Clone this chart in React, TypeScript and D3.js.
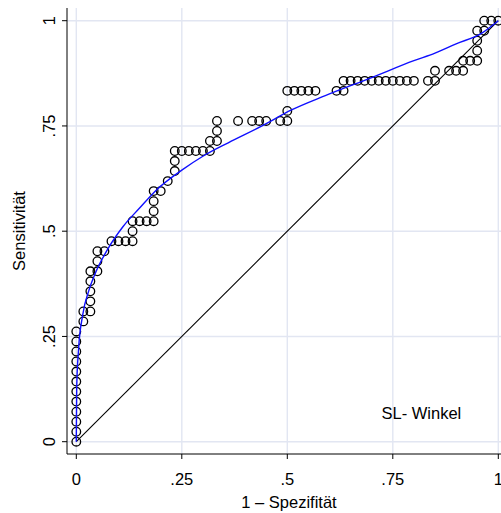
import React from "react";
import * as d3 from "d3";

// ROC counts: 60 negatives, 42 positives
const N_NEG = 60;
const N_POS = 42;

const fpCount = [
  0, 0, 0, 0, 0, 0, 0, 0, 0, 0, 0, 0,
  1, 1, 2, 2, 2, 2, 2, 3, 3, 3, 4,
  5, 6, 7, 8, 8, 8, 9, 10, 11, 11, 11, 11, 12,
  13, 14, 14, 14, 15, 16, 17, 18, 19, 19, 20, 20,
  20, 23, 25, 26, 27, 29, 30, 30,
  30, 31, 32, 33, 34, 37, 38,
  38, 39, 40, 41, 42, 43, 44, 45, 46, 47, 48, 50, 51,
  51, 53, 54, 55, 55, 56, 57, 57, 57, 57, 58, 58, 59, 60,
];
const tpCount = [
  0, 1, 2, 3, 4, 5, 6, 7, 8, 9, 10, 11,
  12, 13, 13, 14, 15, 16, 17, 17, 18, 19, 19,
  20, 20, 20, 20, 21, 22, 22, 22, 22, 23, 24, 25, 25,
  26, 27, 28, 29, 29, 29, 29, 29, 29, 30, 30, 31,
  32, 32, 32, 32, 32, 32, 32, 33,
  35, 35, 35, 35, 35, 35, 35,
  36, 36, 36, 36, 36, 36, 36, 36, 36, 36, 36, 36, 36,
  37, 37, 37, 37, 38, 38, 38, 39, 40, 41, 41, 42, 42, 42,
];

// fitted smooth ROC curve ("SL- Winkel")
const fitFpr = [0, 0.001, 0.005, 0.015, 0.03, 0.045, 0.076, 0.11, 0.15, 0.19, 0.25, 0.3, 0.36, 0.44, 0.51, 0.59, 0.7, 0.8, 0.85, 0.9, 0.96, 1];
const fitTpr = [0, 0.13, 0.215, 0.3, 0.36, 0.4, 0.46, 0.51, 0.555, 0.598, 0.645, 0.678, 0.71, 0.75, 0.788, 0.822, 0.865, 0.905, 0.923, 0.945, 0.97, 1];

const ticks = [0, 0.25, 0.5, 0.75, 1];
const tickLabels = ["0", ".25", ".5", ".75", "1"];

const W = 501;
const H = 513;
const FONT = "'Liberation Sans', Arial, Helvetica, sans-serif";
const FS = 16.5;

export default function App() {
  const x = d3.scaleLinear().domain([0, 1]).range([76.3, 498.3]);
  const y = d3.scaleLinear().domain([0, 1]).range([441.7, 20.7]);

  const axisLeft = 67;
  const axisBottom = 454;
  const axisTop = 8;

  const points = fpCount.map((fp, i) => ({ fx: fp / N_NEG, sy: tpCount[i] / N_POS }));

  const fitLine = d3
    .line<number>()
    .x((d) => x(d))
    .y((_, i) => y(fitTpr[i]))
    .curve(d3.curveMonotoneX);

  const gridColor = "#e2e6f2";

  return (
    <svg
      width={W}
      height={H}
      style={{ position: "absolute", left: 0, top: 0, background: "#fff" }}
      fontFamily={FONT}
    >
      {/* grid */}
      {ticks.map((t) => (
        <g key={"g" + t}>
          <line x1={x(t)} x2={x(t)} y1={axisTop} y2={axisBottom} stroke={gridColor} strokeWidth={1.4} />
          <line x1={axisLeft} x2={W} y1={y(t)} y2={y(t)} stroke={gridColor} strokeWidth={1.4} />
        </g>
      ))}

      {/* axes */}
      <line x1={axisLeft} x2={axisLeft} y1={axisTop} y2={axisBottom} stroke="#000" strokeWidth={1} />
      <line x1={axisLeft} x2={W} y1={axisBottom} y2={axisBottom} stroke="#000" strokeWidth={1} />
      {ticks.map((t, i) => (
        <g key={"t" + t}>
          <line x1={axisLeft - 5} x2={axisLeft} y1={y(t)} y2={y(t)} stroke="#000" strokeWidth={1} />
          <text
            transform={`translate(55,${y(t)}) rotate(-90)`}
            textAnchor="middle"
            fontSize={FS}
            fill="#000"
          >
            {tickLabels[i]}
          </text>
          <line x1={x(t)} x2={x(t)} y1={axisBottom} y2={axisBottom + 5} stroke="#000" strokeWidth={1} />
          <text x={x(t)} y={485} textAnchor="middle" fontSize={FS} fill="#000">
            {tickLabels[i]}
          </text>
        </g>
      ))}

      {/* axis titles */}
      <text transform={`translate(25,231) rotate(-90)`} textAnchor="middle" fontSize={FS} fill="#000">
        Sensitivität
      </text>
      <text x={289} y={508} textAnchor="middle" fontSize={FS} fill="#000">
        1 – Spezifität
      </text>

      {/* empirical ROC points */}
      {points.map((p, i) => (
        <circle key={"p" + i} cx={x(p.fx)} cy={y(p.sy)} r={4.3} fill="none" stroke="#000" strokeWidth={1.3} />
      ))}

      {/* reference diagonal */}
      <line x1={x(0)} y1={y(0)} x2={x(1)} y2={y(1)} stroke="#000" strokeWidth={1.1} />

      {/* fitted curve */}
      <path d={fitLine(fitFpr) || ""} fill="none" stroke="#0f0fff" strokeWidth={1.4} />

      <text x={381.5} y={419} fontSize={FS} fill="#000">
        SL- Winkel
      </text>
    </svg>
  );
}
